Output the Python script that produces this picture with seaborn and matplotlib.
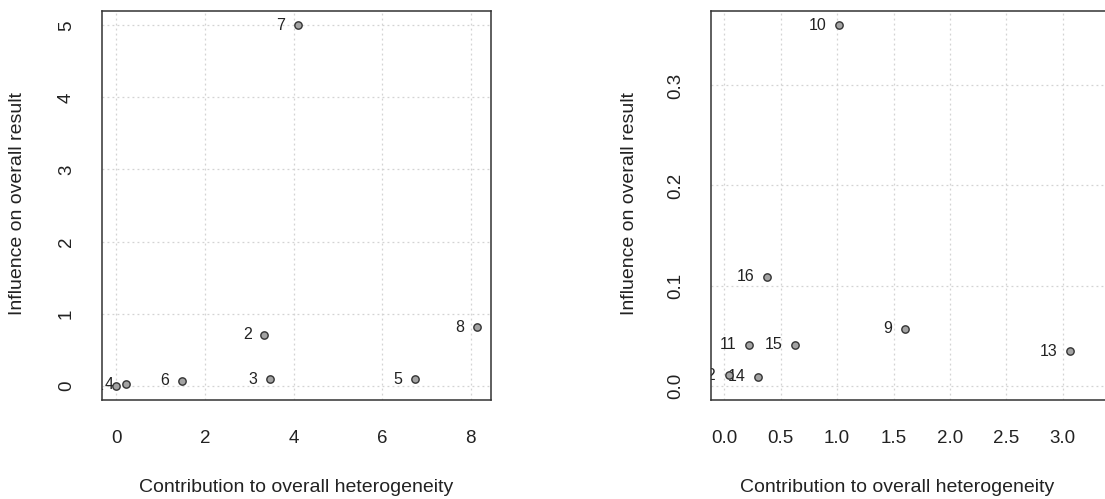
import numpy as np
import pandas as pd
import matplotlib
matplotlib.use("Agg")
import matplotlib.pyplot as plt
import seaborn as sns

# Baujat-style data
left_study = ['1', '2', '3', '4', '5', '6', '7', '8']
left_contrib = [0.0, 3.34, 3.47, 0.22, 6.74, 1.47, 4.09, 8.13]
left_influence = [0.0, 0.706, 0.088, 0.02, 0.088, 0.07, 5.0, 0.81]

right_study = ['9', '10', '11', '12', '13', '14', '15', '16']
right_contrib = [1.60, 1.02, 0.216, 0.044, 3.065, 0.299, 0.627, 0.376]
right_influence = [0.057, 0.360, 0.041, 0.0103, 0.0344, 0.009, 0.041, 0.109]

left_df = pd.DataFrame({'study': left_study, 'x': left_contrib, 'y': left_influence})
right_df = pd.DataFrame({'study': right_study, 'x': right_contrib, 'y': right_influence})

sns.set_style("white")
plt.rcParams['font.family'] = ['Liberation Sans', 'DejaVu Sans']

fig = plt.figure(figsize=(11.05, 4.99), dpi=100)
W, H = 1105, 499
ax1 = fig.add_axes([102 / W, 99 / H, 389 / W, 389 / H])
ax2 = fig.add_axes([711 / W, 99 / H, 439 / W, 389 / H])


def baujat(ax, df, xlim, ylim, xticks, yticks, fmt, xlab_x, ylab_x):
    ax.set_xlim(*xlim)
    ax.set_ylim(*ylim)
    # dotted grid like R's grid()
    for t in xticks:
        ax.axvline(t, color='#d3d3d3', lw=0.9, ls=(0, (1.5, 2.5)), zorder=0)
    for t in yticks:
        ax.axhline(t, color='#d3d3d3', lw=0.9, ls=(0, (1.5, 2.5)), zorder=0)
    for _, r in df.iterrows():
        ax.annotate(r['study'], (r['x'], r['y']), xytext=(-9, 0),
                    textcoords='offset points', ha='right', va='center',
                    fontsize=11.5, color='#222222', annotation_clip=False,
                    clip_on=True, zorder=2)
    sns.scatterplot(data=df, x='x', y='y', ax=ax, s=28, color='#a3a3a3',
                    edgecolor='#333333', linewidth=1.0, zorder=3, legend=False)
    ax.set_xticks(xticks)
    ax.set_yticks(yticks)
    ax.set_xticklabels([fmt.format(t) for t in xticks])
    ax.set_yticklabels([fmt.format(t) for t in yticks], rotation=90, va='center')
    ax.tick_params(axis='both', length=8.5, width=1.0, color='#333333',
                   labelsize=13.5, labelcolor='#222222', direction='out')
    ax.tick_params(axis='x', pad=13)
    ax.tick_params(axis='y', pad=11)
    for sp in ax.spines.values():
        sp.set_color('#333333')
        sp.set_linewidth(1.1)
    ax.set_xlabel('Contribution to overall heterogeneity', fontsize=14,
                  color='#222222', va='center')
    ax.set_ylabel('Influence on overall result', fontsize=14,
                  color='#222222', va='center')
    ax.xaxis.set_label_coords(xlab_x, -0.224)
    ax.yaxis.set_label_coords(ylab_x, 0.504)


baujat(ax1, left_df, (-0.325, 8.455), (-0.2, 5.2),
       [0, 2, 4, 6, 8], [0, 1, 2, 3, 4, 5], '{:.0f}', 0.499, -0.216)
baujat(ax2, right_df, (-0.118, 3.774), (-0.0144, 0.3744),
       [0.0, 0.5, 1.0, 1.5, 2.0, 2.5, 3.0], [0.0, 0.1, 0.2, 0.3], '{:.1f}',
       (897 - 711) / 439, (630 - 711) / 439)

fig.savefig('out.png', dpi=100)
